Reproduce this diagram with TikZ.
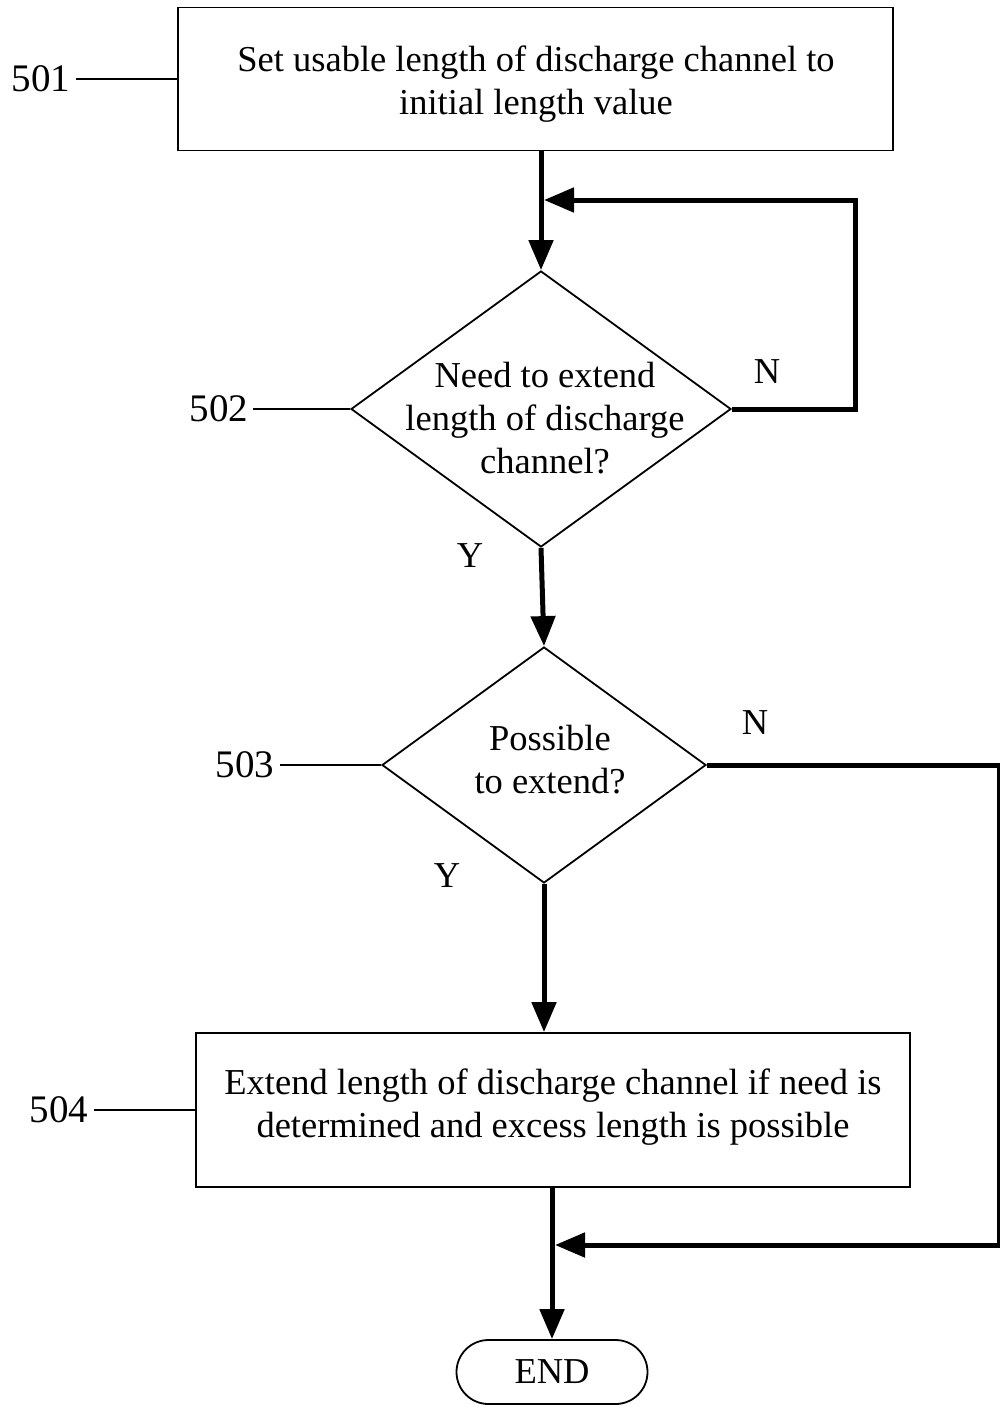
\documentclass[tikz,border=0pt]{standalone}
\usepackage{fontspec}
\setmainfont{Liberation Serif}
\usetikzlibrary{arrows.meta,shapes.geometric,calc}
\tikzset{
  txt/.style={font=\fontsize{36.5}{43}\selectfont, inner sep=0pt, align=center},
  reflabel/.style={font=\fontsize{39}{43}\selectfont, inner sep=0pt},
  stepbox/.style={draw, line width=1.8pt, inner sep=0pt},
  decision/.style={draw, diamond, line width=1.8pt, inner sep=0pt},
  terminal/.style={draw, line width=1.8pt, rounded corners=32pt, inner sep=0pt, txt},
  flow/.style={line width=5pt, -{Triangle[length=30pt,width=24pt]}},
  leader/.style={line width=1.8pt},
}
\begin{document}
\begin{tikzpicture}[x=1pt, y=-1pt]
\useasboundingbox (0,0) rectangle (1000,1407);

% boxes and decisions
\node[stepbox, minimum width=715pt, minimum height=143pt] (b501) at (535.5,79) {};
\node[txt] (t501) at (536,84) {Set usable length of discharge channel to\\initial length value};
\node[decision, minimum width=380pt, minimum height=276pt] (d502) at (541,409) {};
\node[txt] (t502) at (545,418) {Need to extend\\length of discharge\\channel?};
\node[decision, minimum width=324pt, minimum height=236pt] (d503) at (544,765) {};
\node[txt] (t503) at (550,760) {Possible\\to extend?};
\node[stepbox, minimum width=714pt, minimum height=154pt] (b504) at (553,1110) {};
\node[txt] (t504) at (553,1107) {Extend length of discharge channel if need is\\determined and excess length is possible};
\node[terminal, minimum width=191pt, minimum height=64pt] (e) at (552,1372) {END};

% reference labels
\node[reflabel] (l501) at (41,79) {501};
\node[reflabel] (l502) at (219,409) {502};
\node[reflabel] (l503) at (245,765) {503};
\node[reflabel] (l504) at (59,1110) {504};
\draw[leader] ($(l501.east |- b501.west)+(6,0)$) -- (b501.west);
\draw[leader] ($(l502.east |- d502.west)+(5,0)$) -- (d502.west);
\draw[leader] ($(l503.east |- d503.west)+(6,0)$) -- (d503.west);
\draw[leader] ($(l504.east |- b504.west)+(6,0)$) -- (b504.west);

% Y / N labels
\node[txt] (n502) at (767,372) {N};
\node[txt] (y502) at (470,556) {Y};
\node[txt] (n503) at (755,723) {N};
\node[txt] (y503) at (447,876) {Y};

% connectors
\coordinate (m1) at ($(d502.north |- 0,200)+(3,0)$);
\coordinate (m2) at ($(e.north |- 0,1245)+(3,0)$);
\draw[flow] (d502.north |- b501.south) -- (d502.north);
\draw[flow] (d502.east) -| (855,200) -- (m1);
\draw[flow] (d502.south) -- (d503.north);
\draw[flow] (d503.south) -- (d503.south |- b504.north);
\draw[flow] (e.north |- b504.south) -- (e.north);
\draw[flow] (d503.east) -| (999.5,1245) -- (m2);
\end{tikzpicture}
\end{document}
